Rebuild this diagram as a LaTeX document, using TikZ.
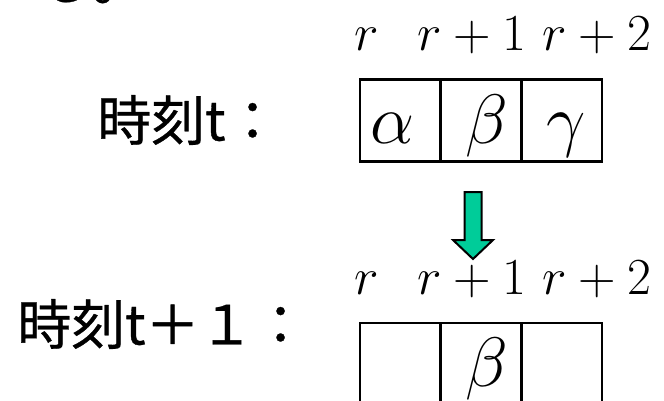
\RequirePackage{fix-cm}
\documentclass[tikz,border=0pt]{standalone}
\usepackage{fontspec}
\newfontfamily\jpfont[FakeBold=0.6]{Noto Sans CJK JP}
\usetikzlibrary{positioning}
\definecolor{arrowgreen}{RGB}{0,204,153}

\begin{document}
\begin{tikzpicture}[
    x=1pt, y=-1pt,
    cell/.style={rectangle, draw, line width=2.5pt, minimum width=80.7pt,
                 minimum height=82pt, inner sep=0pt, outer sep=0pt},
    sym/.style={anchor=base, inner sep=0pt, font=\fontsize{70}{84}\selectfont},
    idx/.style={anchor=base west, inner sep=0pt, font=\fontsize{52}{62}\selectfont},
    timelabel/.style={anchor=west, inner sep=0pt, font=\jpfont\fontsize{54}{64}\selectfont},
    downarrow/.style={draw, line width=2pt, fill=arrowgreen, line join=miter}
]
    \useasboundingbox (0,0) rectangle (664,401);

    % text cut off at the top
    \node[timelabel, anchor=base west] (prev) at (38,0) {る。};

    % time t
    \node[cell] (a1) at (400.35,120.5) {};
    \node[cell, right=0pt of a1] (a2) {};
    \node[cell, right=0pt of a2] (a3) {};
    \node[sym] (al) at (393,143) {$\alpha$};
    \node[sym] (be) at (487,143) {$\beta$};
    \node[sym] (ga) at (566,143) {$\gamma$};
    \node[timelabel] (lt) at (97,120) {時刻t：};
    \node[idx] (ra) at (354,51) {$r$};
    \node[idx] (rb) at (417,51) {$r+1$};
    \node[idx] (rc) at (542,51) {$r+2$};

    % shift
    \draw[downarrow] (464.5,192) -- (481.5,192) -- (481.5,240) -- (493,240)
        -- (473,259) -- (453,240) -- (464.5,240) -- cycle;

    % time t+1
    \node[cell] (b1) at (400.35,364) {};
    \node[cell, right=0pt of b1] (b2) {};
    \node[cell, right=0pt of b2] (b3) {};
    \node[sym] (be1) at (487,386) {$\beta$};
    \node[timelabel] (lt1) at (17,324) {時刻t＋１：};
    \node[idx] (rb1) at (354,294) {$r$};
    \node[idx] (rb2) at (417,294) {$r+1$};
    \node[idx] (rb3) at (542,294) {$r+2$};
\end{tikzpicture}
\end{document}
